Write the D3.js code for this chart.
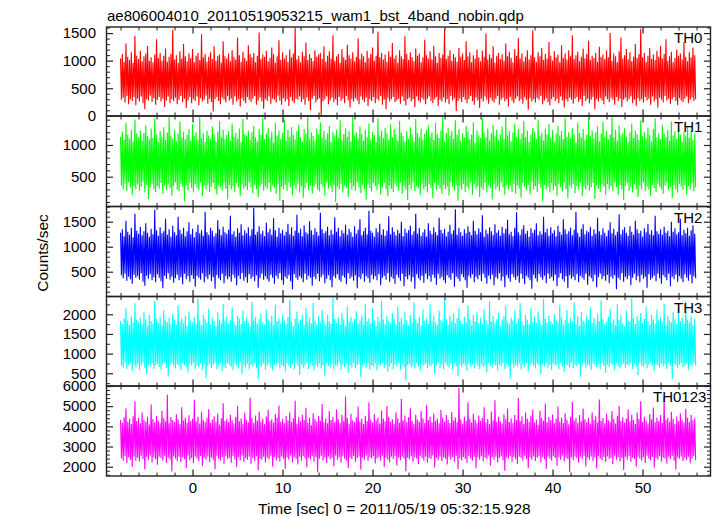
<!DOCTYPE html>
<html><head><meta charset="utf-8">
<script src="https://cdn.jsdelivr.net/npm/d3@7"></script>
<style>
body{margin:0;background:#fff}
svg{display:block}
text{font-family:"Liberation Sans",Arial,Helvetica,sans-serif;fill:#000}
</style>
</head><body>
<svg id="chart" width="717" height="516"></svg>
<script>
const title = "ae806004010_20110519053215_wam1_bst_4band_nobin.qdp";
const xLabel = "Time [sec] 0 = 2011/05/19 05:32:15.928";
const yLabel = "Counts/sec";
const bandNames = ["TH0", "TH1", "TH2", "TH3", "TH0123"];
const binStart = -8, binWidth = 0.1;
const xMajorTicks = [0, 10, 20, 30, 40, 50];

// alternating upper/lower excursions of each light curve, 0.1 s apart (counts/sec)
const th0 = [
1040,290,1120,330,980,240,1310,360,1070,210,1010,300,1150,270,960,340,1450,190,1090,310,
1030,260,1180,350,990,230,1080,120,1130,300,1270,280,1000,370,1060,250,970,320,1110,200,
1390,290,1050,340,1140,260,1000,310,1090,160,1220,280,980,350,1070,230,1120,300,1560,270,
1020,330,1100,210,960,290,1170,360,1040,250,1300,310,1080,140,990,280,1130,340,1050,230,
1210,300,970,270,1090,350,1140,190,1010,320,1480,260,1060,290,1120,370,980,220,1070,310,
1150,250,1030,80,1260,300,1000,340,1090,270,1110,210,960,330,1350,290,1080,240,1040,360,
1130,280,990,310,1190,200,1070,350,1020,260,1420,300,1100,170,980,320,1160,270,1050,230,
1000,340,1280,290,1120,250,1060,310,1140,360,970,200,1090,280,1510,330,1030,260,1110,130,
1070,300,1180,270,990,350,1050,220,1240,310,1120,290,960,240,1080,370,1370,280,1010,200,
1150,320,1040,260,1100,300,980,180,1200,340,1060,270,1130,230,1600,310,1020,290,1090,350,
970,250,1160,300,1080,200,1330,330,1010,270,1120,100,1050,310,990,360,1190,240,1070,290,
1110,320,1140,10,1030,260,1260,300,980,350,1090,210,1170,280,1040,330,1460,250,1000,300,
1080,190,1120,340,960,270,1210,310,1060,230,1010,360,1290,280,1100,150,1040,300,1150,260,
990,320,1070,280,1400,210,1030,350,1130,290,1080,250,970,330,1180,180,1050,300,1120,270,
1240,340,1000,230,1090,310,1530,280,1060,360,1140,200,1020,290,1110,120,980,320,1170,260,
1070,300,1320,340,1040,250,1100,280,960,310,1190,220,1080,350,1030,270,1440,190,1120,300,
1010,330,1150,260,1060,300,990,160,1220,350,1090,280,1130,240,970,320,1060,290,1380,210,
1100,310,1040,350,1170,270,1020,230,1270,300,1080,340,960,180,1140,290,1050,260,1110,330,
1570,240,1030,300,1090,210,1190,360,1000,280,1120,320,1060,90,980,270,1230,310,1070,250,
1130,340,1010,290,1350,230,1080,300,1150,360,970,270,1100,200,1040,330,1200,280,1060,140,
990,310,1180,260,1070,350,1490,290,1020,220,1110,330,1050,280,1260,240,960,310,1090,360,
1140,200,1030,290,1120,330,1000,260,1310,300,1080,170,1160,340,1050,280,970,230,1210,310,
1090,350,1410,270,1040,300,1130,220,990,340,1070,290,1190,110,1020,320,1100,260,1550,300,
1060,240,980,330,1150,290,1080,360,1230,210,1010,280,1120,320,1040,250,1340,190,1090,300,
1000,340,1170,270,1060,310,1110,230,970,350,1280,280,1050,150,1130,300,1020,260,1190,330,
1080,290,1460,220,1030,310,1100,340,1160,250,990,300,1070,180,1220,360,1040,270,1120,310,
1360,230,1010,290,1090,340,1050,120,1140,300,980,260,1250,320,1070,280,1110,210,1030,350,
1190,300,1060,250,1500,330,1000,290,1130,200,1080,340,970,270,1170,310,1420,160,1040,290,
1100,330,1210,260,1020,300,1150,350,990,230,1070,290,1300,180,1050,320,1120,270,1580,300,
1060,240,1140,340,980,280,1090,310,1230,200,1030,350,1110,260,1010,300,1180,150,1070,330,
1270,290,1040,240,1120,360,1390,280,1000,310,1080,220,1160,300,970,340,1050,270,1200,190,
1090,320,1130,280,1020,250,1340,310,1070,350,990,230,1150,290,1060,330,1240,270,1100,300
];
const th1 = [
1130,360,1210,300,1080,390,1350,270,1160,410,1100,330,1240,210,1060,350,1400,300,1180,380,
1120,280,1230,340,1070,420,1190,250,1310,370,1140,150,1090,330,1260,390,1110,300,1420,260,
1170,350,1050,310,1220,400,1130,230,1280,360,1080,290,1200,380,1440,320,1150,200,1100,350,
1240,410,1060,300,1180,270,1370,390,1120,340,1210,110,1090,360,1160,290,1250,400,1070,320,
1330,250,1140,380,1200,330,1080,290,1450,410,1110,190,1190,350,1050,300,1230,370,1150,260,
1100,340,1290,400,1170,300,1060,220,1210,360,1380,330,1120,280,1240,410,1090,310,1160,140,
1220,370,1070,300,1340,350,1130,260,1190,400,1100,330,1260,200,1050,380,1410,310,1170,350,
1140,290,1230,410,1080,330,1200,240,1300,370,1120,300,1060,180,1250,350,1160,390,1430,280,
1090,340,1180,310,1270,400,1110,260,1210,360,1040,320,1350,230,1150,390,1230,120,1100,340,
1190,300,1400,370,1070,280,1240,410,1130,330,1280,210,1160,360,1090,300,1220,390,1320,250,
1120,350,1060,170,1250,320,1180,400,1440,290,1100,360,1200,230,1140,340,1070,390,1260,300,
1170,270,1360,380,1110,330,1230,200,1090,410,1190,310,1300,350,1050,260,1210,370,1150,100,
1240,340,1120,300,1390,390,1080,250,1170,360,1260,320,1130,180,1220,400,1060,300,1450,350,
1150,280,1200,410,1100,330,1290,240,1180,370,1070,300,1240,140,1130,380,1340,320,1090,270,
1210,400,1160,350,1050,290,1420,380,1140,220,1230,330,1110,400,1270,300,1190,190,1080,360,
1330,310,1120,260,1250,390,1170,340,1070,280,1380,410,1200,230,1140,350,1060,300,1220,130,
1100,370,1280,300,1160,410,1050,270,1410,350,1190,320,1120,210,1260,390,1090,300,1180,340,
1240,250,1310,380,1130,320,1200,160,1080,400,1350,290,1170,360,1110,310,1230,230,1440,370,
1060,300,1190,340,1270,200,1140,410,1220,330,1100,280,1390,370,1160,120,1250,350,1070,300,
1180,390,1120,260,1300,340,1210,300,1090,410,1160,220,1360,380,1040,310,1230,350,1150,180,
1110,330,1420,290,1200,400,1130,250,1260,360,1070,320,1190,140,1320,390,1140,300,1240,340,
1080,270,1170,410,1290,330,1100,210,1450,370,1150,300,1220,350,1060,260,1200,390,1340,230,
1130,360,1250,310,1090,170,1180,400,1380,340,1120,290,1230,370,1050,220,1160,410,1270,300,
1210,350,1100,260,1400,390,1140,320,1190,110,1070,370,1260,300,1170,340,1330,250,1120,400,
1240,290,1060,350,1180,200,1300,380,1150,330,1220,270,1090,410,1430,300,1130,160,1200,360,
1110,320,1270,390,1170,240,1040,350,1350,300,1190,410,1120,190,1250,340,1080,300,1160,370,
1410,280,1140,330,1230,400,1100,150,1200,360,1290,310,1060,260,1180,390,1370,340,1130,220,
1220,380,1090,300,1160,350,1450,270,1120,410,1240,330,1070,210,1310,370,1150,300,1190,130,
1260,350,1130,400,1050,280,1200,330,1340,250,1110,380,1230,300,1170,180,1080,360,1390,310,
1140,410,1210,270,1100,340,1280,300,1160,200,1060,370,1250,320,1420,260,1120,390,1190,340,
1090,300,1320,230,1180,360,1130,410,1240,280,1070,330,1370,160,1150,370,1220,300,1100,250,
1270,390,1160,340,1050,290,1200,370,1140,220,1300,350,1110,300,1230,400,1080,270,1180,330
];
const th2 = [
1280,430,1350,370,1210,460,1520,320,1300,400,1240,350,1380,260,1190,440,1660,380,1320,410,
1260,340,1400,470,1230,300,1310,220,1470,420,1280,360,1200,450,1360,330,1250,390,1740,290,
1330,450,1220,380,1390,310,1270,170,1310,420,1560,360,1240,470,1350,340,1200,400,1420,280,
1290,370,1230,440,1600,330,1340,390,1260,250,1380,460,1210,350,1310,410,1490,300,1250,430,
1360,360,1190,200,1300,420,1440,380,1270,340,1330,470,1220,290,1700,400,1290,350,1240,440,
1380,310,1320,390,1210,160,1270,430,1530,370,1350,330,1230,460,1400,270,1290,410,1260,350,
1340,400,1620,300,1250,440,1310,380,1200,230,1370,420,1280,350,1450,470,1230,320,1330,390,
1270,280,1390,450,1220,360,1350,400,1780,310,1240,430,1300,180,1410,370,1260,460,1320,340,
1210,410,1480,350,1290,300,1360,440,1240,380,1570,260,1330,420,1200,360,1380,470,1270,330,
1340,240,1230,400,1300,360,1460,430,1250,310,1390,150,1220,450,1320,380,1640,340,1280,410,
1360,370,1210,290,1430,460,1290,340,1260,420,1510,380,1330,220,1240,400,1370,350,1300,460,
1220,310,1680,390,1350,440,1270,270,1310,360,1400,430,1230,330,1340,190,1250,410,1590,370,
1300,450,1380,340,1210,300,1330,420,1270,380,1440,250,1240,470,1360,360,1290,400,1200,320,
1410,430,1260,170,1340,390,1550,350,1230,460,1310,300,1380,410,1250,370,1720,280,1320,440,
1280,350,1200,410,1370,330,1290,450,1460,230,1240,380,1350,420,1220,340,1320,470,1610,300,
1250,400,1390,360,1300,260,1230,440,1340,380,1270,320,1500,460,1210,210,1360,400,1280,350,
1330,430,1420,300,1240,390,1310,160,1660,450,1260,370,1380,330,1220,420,1290,280,1350,460,
1200,350,1470,410,1320,300,1250,440,1390,380,1290,240,1230,460,1580,360,1340,400,1270,330,
1360,270,1210,430,1300,380,1440,340,1260,470,1330,200,1750,400,1240,360,1380,310,1290,450,
1220,390,1350,330,1270,180,1410,420,1300,370,1230,450,1520,290,1320,400,1250,350,1370,430,
1290,310,1630,460,1200,380,1340,260,1260,420,1390,350,1310,440,1240,230,1450,390,1280,360,
1330,470,1220,320,1400,400,1270,190,1360,430,1540,370,1250,300,1300,450,1210,390,1380,340,
1690,410,1290,280,1240,460,1350,360,1430,250,1260,420,1320,380,1200,330,1370,160,1280,440,
1340,370,1470,300,1230,450,1310,390,1250,340,1600,420,1290,270,1360,460,1220,360,1390,400,
1270,320,1330,440,1210,210,1420,380,1300,470,1240,350,1550,300,1350,410,1260,170,1310,430,
1380,360,1230,400,1340,330,1700,450,1280,290,1200,420,1360,380,1450,340,1250,460,1320,240,
1290,410,1400,370,1220,300,1350,440,1260,190,1580,390,1310,460,1240,350,1370,410,1280,320,
1210,440,1330,270,1490,400,1270,360,1360,430,1230,150,1300,380,1650,340,1250,470,1340,300,
1390,400,1280,350,1220,420,1410,230,1300,380,1240,460,1520,330,1350,410,1270,290,1320,440,
1200,360,1370,400,1290,180,1460,450,1250,340,1330,380,1230,420,1620,310,1310,460,1260,370,
1350,260,1240,430,1400,390,1280,330,1320,460,1210,210,1500,400,1300,350,1370,440,1250,300,
1290,410,1560,360,1230,290,1340,450,1270,380,1380,320,1220,440,1330,270,1430,410,1260,370
];
const th3 = [
1820,700,1760,640,1900,750,2150,610,1840,690,1730,760,1950,560,1790,720,2280,650,1870,740,
1800,590,1920,700,1740,770,2060,630,1860,480,1710,720,1980,680,1830,750,1760,610,2340,700,
1890,740,1780,660,1940,590,1720,720,2100,770,1850,640,1800,420,1910,700,1750,750,2010,680,
1870,620,1740,730,2230,690,1820,580,1900,760,1770,700,1960,650,1710,520,2070,740,1840,690,
1790,770,1930,610,1760,700,2400,660,1850,740,1720,590,1990,720,1880,380,1800,680,2140,750,
1740,640,1910,710,1820,770,1700,600,2050,690,1870,740,1780,550,2260,700,1840,630,1950,760,
1770,710,1860,660,2180,590,1810,750,1730,690,1970,620,1890,780,1750,480,2090,700,1830,650,
1920,740,1780,600,1710,720,2310,680,1850,760,1940,630,1760,350,1880,710,2020,670,1800,750,
1740,590,2120,700,1870,740,1790,650,1960,570,1720,720,2240,690,1830,760,1900,620,1770,710,
2000,680,1850,540,1750,750,1930,700,2370,640,1810,730,1700,600,1880,770,2070,690,1790,460,
1860,720,1980,650,1730,700,2160,760,1820,610,1910,740,1770,680,2290,570,1840,720,1750,660,
1950,750,1800,620,2110,700,1870,440,1720,760,1990,690,1830,640,1760,730,2420,600,1890,710,
1780,680,1920,770,1740,590,2040,720,1860,660,1710,750,2200,510,1810,700,1940,640,1790,760,
1880,620,2080,710,1760,740,1850,400,1970,690,1730,730,2270,650,1820,760,1900,600,1770,700,
2150,670,1840,740,1700,580,1930,720,1800,690,2350,760,1870,630,1750,710,1960,540,1830,680,
1790,750,2030,610,1890,720,1740,680,2190,770,1820,590,1910,730,1760,660,2060,320,1850,710,
1720,740,1980,650,1800,700,2300,620,1870,760,1780,680,1940,570,1710,720,2120,700,1840,750,
1900,630,1760,710,2250,680,1830,740,1950,490,1790,700,1740,760,2090,640,1860,720,1810,600,
2380,770,1880,690,1730,650,1970,730,1820,600,2010,760,1770,680,1900,430,2160,720,1840,660,
1750,740,1930,700,1800,560,2220,750,1870,680,1720,720,1990,630,1830,770,2050,690,1780,610,
1910,730,1760,660,2130,700,1850,520,1740,760,2330,690,1820,640,1960,740,1790,700,1880,580,
2040,720,1710,680,1870,750,1950,610,2210,730,1800,690,1760,370,1920,760,1840,650,2100,710,
1780,680,1890,740,2280,600,1830,720,1730,660,1980,770,1860,550,1750,700,2170,740,1810,690,
1940,630,1770,750,2070,700,1850,470,1720,720,2390,680,1880,760,1790,640,1960,710,1830,590,
1750,740,2010,690,1870,720,1800,610,2240,760,1920,680,1740,540,1850,730,2110,700,1780,650,
1900,770,1820,620,2300,710,1760,680,1950,740,1710,410,2060,700,1840,760,1790,640,1970,720,
1860,690,2180,580,1780,750,1910,700,1740,660,2020,730,1830,600,2350,760,1880,690,1760,520,
1820,720,1940,660,2140,740,1790,700,1870,580,1730,760,2260,680,1850,630,1980,710,1770,750,
1700,640,2090,720,1860,690,1810,750,2410,600,1900,730,1750,680,1960,450,1840,760,2030,700,
1780,660,1890,740,2200,620,1820,710,1740,770,1990,690,1870,560,1760,730,2120,700,1850,640,
1930,750,1800,680,2270,720,1720,610,1960,760,1840,690,1790,350,2060,740,1880,700,1760,630,
2160,720,1830,760,1910,660,1750,700,2330,740,1860,590,1800,720,1950,680,1730,750,1890,700
];
const th0123 = [
4310,2420,4180,2290,4450,2530,4890,2180,4230,2470,4380,2350,4120,1980,4500,2510,5240,2300,4270,2440,
4410,2260,4150,2540,4690,2380,4330,1860,4240,2490,4480,2330,4090,2550,5080,2210,4360,2460,4200,2370,
4520,2100,4280,2500,4170,2420,4770,2290,4400,2540,4250,2190,5560,2450,4140,2360,4460,1760,4320,2520,
4220,2410,4600,2280,4350,2500,4110,2220,4950,2470,4290,2370,4430,1940,4190,2550,4550,2320,4260,2430,
4380,2180,5320,2510,4240,2390,4470,2270,4130,2530,4720,2050,4310,2440,4200,2350,4420,2500,4860,2230,
4160,2460,4340,2320,4500,1880,4230,2540,4640,2400,4080,2290,4400,2480,5150,2150,4270,2520,4370,2380,
4210,2440,4580,2200,4300,2530,4140,2360,4460,1990,4990,2470,4250,2310,4390,2560,4120,2250,4680,2420,
4330,2350,4200,2500,5420,2140,4410,2430,4160,2280,4540,2520,4290,1820,4740,2400,4240,2340,4380,2490,
4100,2210,4490,2450,4820,2370,4270,2540,4350,2000,4190,2480,4610,2310,4440,2430,5030,2260,4230,2510,
4370,2390,4150,1900,4520,2460,4290,2340,4700,2550,4210,2220,4400,2470,5270,2380,4130,2110,4460,2500,
4250,2300,4580,2530,4320,2410,4920,1970,4180,2440,4430,2360,4060,2520,4650,2250,4360,2480,4240,1720,
4510,2400,4280,2540,5110,2310,4200,2450,4390,2180,4150,2500,4760,2370,4310,2430,4470,2020,4220,2560,
4840,2340,4350,2470,4170,2210,4560,2520,4260,2390,5480,2290,4410,1930,4130,2460,4620,2370,4300,2530,
4200,2250,4450,2420,4980,2500,4240,1850,4380,2440,4110,2330,4530,2550,4270,2280,5200,2460,4340,2390,
4190,2520,4600,2160,4300,2410,4420,2480,4140,2300,4780,2540,4370,1990,4250,2450,5010,2350,4480,2220,
4230,2490,4360,2380,4120,2530,4690,2060,4400,2460,4180,2320,5350,2500,4290,2400,4540,1780,4210,2440,
4450,2360,4900,2520,4270,2250,4130,2470,4580,2390,4340,2130,4220,2540,4760,2420,4390,2300,4160,2490,
5060,2200,4310,2450,4470,2380,4200,2560,4640,1960,4260,2430,4380,2330,4150,2510,4820,2270,4430,2460,
4240,2390,4560,2110,4320,2500,4170,2350,4710,2470,4290,2240,4440,2540,4210,1870,5900,2420,4350,2310,
4130,2480,4490,2380,4270,2190,5180,2530,4380,2410,4200,2300,4620,2500,4330,1920,4160,2460,4540,2360,
4280,2520,4410,2270,4950,2440,4190,2380,4360,2550,4110,2060,4730,2470,4300,2340,5290,2490,4230,2210,
4470,2430,4250,2510,4140,2320,4600,1800,4350,2460,4880,2390,4220,2530,4400,2250,4170,2480,4560,2370,
4310,2140,5400,2500,4260,2420,4490,2300,4120,2540,4690,2370,4380,1940,4230,2460,4520,2350,4840,2510,
4190,2280,4340,2440,4080,2530,4770,2210,4420,2470,4280,2360,5130,1890,4200,2500,4460,2400,4310,2290,
4590,2520,4150,2430,4370,2050,4980,2480,4240,2340,4420,2560,4170,2260,4650,2450,4330,2380,4100,1750,
4480,2470,5220,2330,4290,2510,4400,2420,4160,2200,4560,2490,4250,2370,4890,2540,4350,2010,4210,2440,
4430,2350,4130,2500,4700,2280,4320,2460,4500,1910,4190,2530,5330,2400,4270,2310,4410,2480,4150,2230,
4620,2510,4300,2380,4230,2450,4760,2120,4380,2540,4140,2340,4520,2470,5010,2260,4260,2430,4450,1840,
4180,2490,4390,2350,4840,2530,4240,2250,4570,2440,4320,2380,4110,2000,4680,2510,4360,2410,5240,2300,
4220,2470,4470,2180,4290,2540,4140,2390,4610,2310,4350,2480,4930,1950,4200,2430,4440,2360,4270,2520,
4560,2260,4160,2450,5460,2400,4310,2150,4410,2500,4230,2370,4720,2540,4380,2290,4120,1860,4490,2460,
4250,2390,4650,2510,4330,2280,4190,2440,4870,2350,4420,2490,4210,2170,4560,2400,4300,2530,4400,2320
];

const yDomains = [[-3, 1610], [30, 1457], [4, 1804], [177, 2452], [1539, 6000]];
const yMajorTicks = [[0, 500, 1000, 1500], [500, 1000], [500, 1000, 1500], [500, 1000, 1500, 2000], [2000, 3000, 4000, 5000, 6000]];
const yMinorStep = [100, 100, 100, 250, 200];
const xMinorStep = 2;

const series = [th0, th1, th2, th3, th0123];
const colors = ["#ff0000", "#00ff00", "#0000ff", "#00ffff", "#ff00ff"];
const labelX = [674, 674, 674, 674, 653];

const svg = d3.select("#chart");
svg.append("rect").attr("width", 717).attr("height", 516).attr("fill", "#fff");
const left = 106.5, right = 710.5;
const bounds = [27, 116, 206.5, 296.5, 386, 476];
const x = d3.scaleLinear().domain([-9.56, 57.55]).range([left, right]);
const xMinor = d3.range(-8, 57, xMinorStep).filter(v => !xMajorTicks.includes(v));
const axisColor = "#222";

function styleAxis(g, w) {
  g.select(".domain").remove();
  g.selectAll(".tick line").attr("stroke", axisColor).attr("stroke-width", w);
  g.selectAll(".tick text").attr("font-size", 15).attr("fill", "#000")
    .attr("font-family", "Liberation Sans, Arial, sans-serif");
}

series.forEach((vals, k) => {
  const y0 = bounds[k], y1 = bounds[k + 1];
  const y = d3.scaleLinear().domain(yDomains[k]).range([y1, y0]);
  const g = svg.append("g");
  g.append("clipPath").attr("id", "cp" + k).append("rect")
    .attr("x", left).attr("y", y0).attr("width", right - left).attr("height", y1 - y0);
  const line = d3.line().x((d, i) => x(binStart + i * binWidth)).y(d => y(d));
  g.append("path").attr("d", line(vals)).attr("fill", "none")
    .attr("stroke", colors[k]).attr("stroke-width", 1.1)
    .attr("stroke-linejoin", "bevel").attr("clip-path", `url(#cp${k})`);

  const minorY = d3.range(Math.ceil(yDomains[k][0] / yMinorStep[k]) * yMinorStep[k], yDomains[k][1], yMinorStep[k])
    .filter(v => !yMajorTicks[k].includes(v));

  g.append("g").attr("transform", `translate(${left},0)`)
    .call(d3.axisLeft(y).tickValues(yMajorTicks[k]).tickSize(-6.5).tickPadding(10.5).tickFormat(d3.format("d")))
    .call(a => styleAxis(a, 1.2));
  g.append("g").attr("transform", `translate(${left},0)`)
    .call(d3.axisLeft(y).tickValues(minorY).tickSize(-3.5).tickFormat(""))
    .call(a => styleAxis(a, 1));
  g.append("g").attr("transform", `translate(${right},0)`)
    .call(d3.axisRight(y).tickValues(yMajorTicks[k]).tickSize(-6.5).tickFormat(""))
    .call(a => styleAxis(a, 1.2));
  g.append("g").attr("transform", `translate(${right},0)`)
    .call(d3.axisRight(y).tickValues(minorY).tickSize(-3.5).tickFormat(""))
    .call(a => styleAxis(a, 1));
  g.append("g").attr("transform", `translate(0,${y0})`)
    .call(d3.axisTop(x).tickValues(xMajorTicks).tickSize(-6.5).tickFormat(""))
    .call(a => styleAxis(a, 1.2));
  g.append("g").attr("transform", `translate(0,${y0})`)
    .call(d3.axisTop(x).tickValues(xMinor).tickSize(-3.5).tickFormat(""))
    .call(a => styleAxis(a, 1));
  g.append("g").attr("transform", `translate(0,${y1})`)
    .call(d3.axisBottom(x).tickValues(xMajorTicks).tickSize(-6.5).tickPadding(6.7)
      .tickFormat(k === series.length - 1 ? d3.format("d") : ""))
    .call(a => styleAxis(a, 1.2));
  g.append("g").attr("transform", `translate(0,${y1})`)
    .call(d3.axisBottom(x).tickValues(xMinor).tickSize(-3.5).tickFormat(""))
    .call(a => styleAxis(a, 1));

  g.append("rect").attr("x", left).attr("y", y0).attr("width", right - left).attr("height", y1 - y0)
    .attr("fill", "none").attr("stroke", axisColor).attr("stroke-width", 1.4);

  g.append("text").attr("x", labelX[k]).attr("y", y0 + 16).attr("font-size", 15).text(bandNames[k]);
});

svg.append("text").attr("x", 107).attr("y", 20.5).attr("font-size", 15).text(title);
svg.append("text").attr("x", 258).attr("y", 513.5)
  .attr("font-size", 15.5).text(xLabel);
svg.append("text").attr("transform", `translate(48,253) rotate(-90)`).attr("text-anchor", "middle")
  .attr("font-size", 15.5).text(yLabel);
</script>
</body></html>
